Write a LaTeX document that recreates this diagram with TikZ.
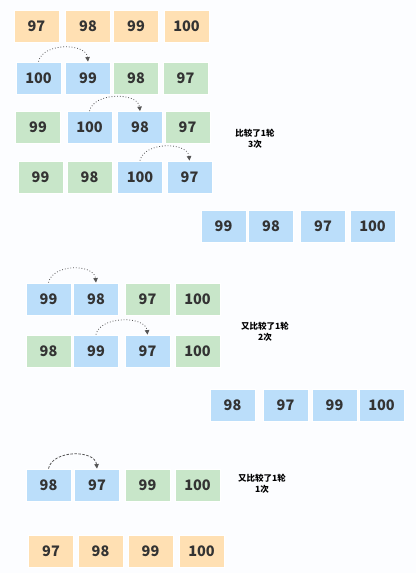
\documentclass[tikz,border=0pt]{standalone}
\usepackage{fontspec}
\newfontfamily\cjk{Noto Sans CJK SC}
\usetikzlibrary{arrows.meta}
\definecolor{bgc}{HTML}{FCFDFF}
\definecolor{orc}{HTML}{FFE0B3}
\definecolor{blc}{HTML}{BBDEFA}
\definecolor{grc}{HTML}{C8E6C9}
\definecolor{txc}{HTML}{333333}
\definecolor{arc}{HTML}{555555}
\tikzset{
  box/.style={draw=white, line width=0.8pt, minimum width=45pt, minimum height=32pt, inner sep=0pt,
    font=\cjk\bfseries\fontsize{14.5}{16}\selectfont, text=txc},
  ob/.style={box, fill=orc},
  bb/.style={box, fill=blc},
  gb/.style={box, fill=grc},
  lab/.style={font=\cjk\bfseries\fontsize{8.5}{11}\selectfont, text=black, align=center, inner sep=0pt},
  swap/.style={draw=arc, line width=0.8pt, dotted, -{Triangle[width=4.5pt,length=4.5pt]}},
  swapd/.style={draw=arc, line width=0.8pt, dash pattern=on 2.5pt off 1.5pt, -{Triangle[width=4.5pt,length=4.5pt]}}
}
\begin{document}
\begin{tikzpicture}[x=1pt,y=-1pt]
\fill[bgc] (0,0) rectangle (416,573);
\useasboundingbox (0,0) rectangle (416,573);
% row 1
\node[ob] (r1a) at (36.5,26) {97};
\node[ob] (r1b) at (88,26) {98};
\node[ob] (r1c) at (136,26) {99};
\node[ob] (r1d) at (186.5,26) {100};
% row 2
\node[bb] (r2a) at (38.5,78) {100};
\node[bb] (r2b) at (88,78) {99};
\node[gb] (r2c) at (136,78) {98};
\node[gb] (r2d) at (185.5,78) {97};
% row 3
\node[gb] (r3a) at (38,127.5) {99};
\node[bb] (r3b) at (89.5,127.5) {100};
\node[bb] (r3c) at (140,127.5) {98};
\node[gb] (r3d) at (187.5,127.5) {97};
% row 4
\node[gb] (r4a) at (40.5,177) {99};
\node[gb] (r4b) at (89.5,177) {98};
\node[bb] (r4c) at (140,177) {100};
\node[bb] (r4d) at (189.5,177) {97};
% row 5
\node[bb] (r5a) at (223.5,226) {99};
\node[bb] (r5b) at (271,226) {98};
\node[bb] (r5c) at (323,226) {97};
\node[bb] (r5d) at (372.5,226) {100};
% row 6
\node[bb] (r6a) at (48.5,299) {99};
\node[bb] (r6b) at (96,299) {98};
\node[gb] (r6c) at (147.5,299) {97};
\node[gb] (r6d) at (197.5,299) {100};
% row 7
\node[gb] (r7a) at (48.5,351) {98};
\node[bb] (r7b) at (96,351) {99};
\node[bb] (r7c) at (147.5,351) {97};
\node[gb] (r7d) at (197.5,351) {100};
% row 8
\node[bb] (r8a) at (232.5,405) {98};
\node[bb] (r8b) at (285.5,405) {97};
\node[bb] (r8c) at (334.5,405) {99};
\node[bb] (r8d) at (381.5,405) {100};
% row 9
\node[bb] (r9a) at (48.5,485) {98};
\node[bb] (r9b) at (97,485) {97};
\node[gb] (r9c) at (147.5,485) {99};
\node[gb] (r9d) at (197.5,485) {100};
% row 10
\node[ob] (r10a) at (51,551) {97};
\node[ob] (r10b) at (100.5,551) {98};
\node[ob] (r10c) at (150.5,551) {99};
\node[ob] (r10d) at (201.5,551) {100};
% labels
\node[lab] (l1) at (255,139) {比较了1轮\\3次};
\node[lab] (l2) at (265,332) {又比较了1轮\\2次};
\node[lab] (l3) at (262,484) {又比较了1轮\\1次};
% arrows
\draw[swap] (r2a.north) .. controls ([shift={(4,-19)}]r2a.north) and ([shift={(-2,-19)}]r2b.north) .. (r2b.north);
\draw[swap] (r3b.north) .. controls ([shift={(4,-19)}]r3b.north) and ([shift={(-2,-19)}]r3c.north) .. (r3c.north);
\draw[swap] (r4c.north) .. controls ([shift={(4,-19)}]r4c.north) and ([shift={(-2,-19)}]r4d.north) .. (r4d.north);
\draw[swap] (r6a.north) .. controls ([shift={(4,-19)}]r6a.north) and ([shift={(-2,-19)}]r6b.north) .. (r6b.north);
\draw[swap] (r7b.north) .. controls ([shift={(4,-19)}]r7b.north) and ([shift={(-2,-19)}]r7c.north) .. (r7c.north);
\draw[swapd] (r9a.north) .. controls ([shift={(4,-19)}]r9a.north) and ([shift={(-2,-19)}]r9b.north) .. (r9b.north);
\end{tikzpicture}
\end{document}
